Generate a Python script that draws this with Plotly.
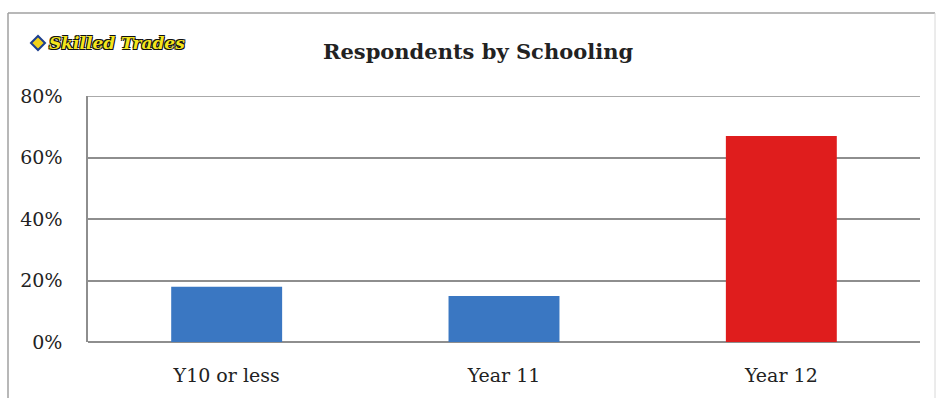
import plotly.graph_objects as go

# Survey respondents by highest level of schooling
categories = ["Y10 or less", "Year 11", "Year 12"]
shares = [0.18, 0.15, 0.67]
bar_colors = ["#3a77c2", "#3a77c2", "#df1d1d"]
y_ticks = [0, 0.2, 0.4, 0.6, 0.8]
y_tick_labels = ["0%", "20%", "40%", "60%", "80%"]

W, H = 939, 398
L, R, T, B = 88, 19, 96, 56
pw, ph = W - L - R, H - T - B


def px_x(x):
    return (x - L) / pw


def px_y(y):
    return (H - B - y) / ph


serif = "DejaVu Serif"
grey = "#8e8e8e"

fig = go.Figure(
    go.Bar(
        x=categories,
        y=shares,
        marker=dict(color=bar_colors, line=dict(width=0)),
        hoverinfo="skip",
    )
)

fig.update_layout(
    width=W,
    height=H,
    margin=dict(l=L, r=R, t=T, b=B),
    paper_bgcolor="white",
    plot_bgcolor="white",
    bargap=0.6,
    showlegend=False,
    font=dict(family=serif, color="#222222"),
)

fig.update_xaxes(
    showgrid=False,
    showline=False,
    ticks="",
    tickfont=dict(family=serif, size=19, color="#222222"),
    ticklabelstandoff=20,
)
fig.update_yaxes(
    range=[0, 0.8],
    tickvals=y_ticks,
    ticktext=y_tick_labels,
    showgrid=True,
    gridcolor=grey,
    gridwidth=1.5,
    showline=True,
    linecolor=grey,
    linewidth=1.5,
    zeroline=True,
    zerolinecolor=grey,
    zerolinewidth=1.5,
    ticks="",
    tickfont=dict(family=serif, size=19, color="#222222"),
    ticklabelstandoff=20,
)

# Top gridline at the upper edge of the value range
fig.add_shape(type="line", xref="paper", yref="y",
              x0=0, x1=1, y0=y_ticks[-1], y1=y_ticks[-1],
              line=dict(color=grey, width=1.5))

# Outer frame around the chart
frame = dict(color="#a0a0a0", width=1.5)
fig.add_shape(type="line", xref="paper", yref="paper",
              x0=px_x(8), x1=px_x(8), y0=px_y(13), y1=px_y(420), line=frame)
fig.add_shape(type="line", xref="paper", yref="paper",
              x0=px_x(8), x1=px_x(935), y0=px_y(13), y1=px_y(13), line=frame)
fig.add_shape(type="line", xref="paper", yref="paper",
              x0=px_x(935), x1=px_x(935), y0=px_y(13), y1=px_y(420),
              line=dict(color="#d8d8d8", width=1))

# Title
fig.add_annotation(
    text="<b>Respondents by Schooling</b>",
    xref="paper", yref="paper",
    x=px_x(478), y=px_y(52),
    xanchor="center", yanchor="middle",
    showarrow=False,
    font=dict(family=serif, size=21, color="#222222"),
)

# Logo: diamond badge and stylised wordmark
fig.add_shape(
    type="path", xref="paper", yref="paper",
    path=(f"M {px_x(31)} {px_y(43)} L {px_x(38)} {px_y(36)} "
          f"L {px_x(45)} {px_y(43)} L {px_x(38)} {px_y(50)} Z"),
    fillcolor="#f2d21b", line=dict(color="#1d3f8f", width=2),
)
fig.add_annotation(
    text="<b><i>Skilled Trades</i></b>",
    xref="paper", yref="paper",
    x=px_x(47), y=px_y(43),
    xanchor="left", yanchor="middle",
    showarrow=False,
    font=dict(
        family=serif, size=17, color="#f4e51c",
        shadow="1px 1px 0 #111, -1px -1px 0 #111, 1px -1px 0 #111, -1px 1px 0 #111",
    ),
)

fig.write_html("out.html")
